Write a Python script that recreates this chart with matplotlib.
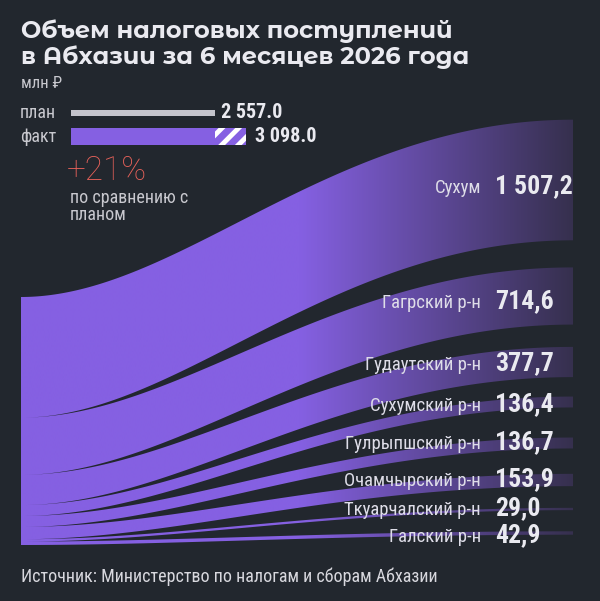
import numpy as np
import matplotlib
matplotlib.use("Agg")
import matplotlib.pyplot as plt
from matplotlib.path import Path
from matplotlib.patches import PathPatch, Rectangle

# === Data ===
districts = ["Сухум", "Гагрский р-н", "Гудаутский р-н", "Сухумский р-н",
             "Гулрыпшский р-н", "Очамчырский р-н", "Ткуарчалский р-н", "Галский р-н"]
values = [1507.2, 714.6, 377.7, 136.4, 136.7, 153.9, 29.0, 42.9]
value_labels = ["1 507,2", "714,6", "377,7", "136,4", "136,7", "153,9", "29,0", "42,9"]

plan_fact_names = ["план", "факт"]
plan_fact_values = [2557.0, 3098.0]
plan_fact_labels = ["2 557.0", "3 098.0"]
growth_label = "+21%"

# === Style ===
BG = "#22272e"
PURPLE = "#8560e2"
END = "#36304e"
TXT = "#eaeaf0"
GRAY = "#c8c8ce"
RED = "#e9625a"

NARROW = ["Roboto Condensed", "DejaVu Sans"]
TITLE = ["Montserrat Alternates", "Inter", "DejaVu Sans"]

fig = plt.figure(figsize=(6, 6.01), dpi=100, facecolor=BG)
ax = fig.add_axes([0, 0, 1, 1])
ax.set_facecolor(BG)
ax.set_xlim(0, 600)
ax.set_ylim(601, 0)
ax.axis("off")

# === Sankey-like bands ===
x_left, x_right = 21, 573
left_top, left_h = 297, 248
right_centers = [180, 296, 362, 402, 443, 480, 509, 533]
k = left_h / sum(values)

t = np.linspace(0, 1, 200)
c1, c2 = 180, 330
bx = ((1 - t) ** 3 * x_left + 3 * (1 - t) ** 2 * t * c1
      + 3 * (1 - t) * t ** 2 * c2 + t ** 3 * x_right)
bf = 3 * t ** 2 - 2 * t ** 3

paths = []
y0 = left_top
for v, rc in zip(values, right_centers):
    w = v * k
    lt, lb = y0, y0 + w
    rt, rb = rc - w / 2, rc + w / 2
    top = lt + (rt - lt) * bf
    bot = lb + (rb - lb) * bf
    xs = np.concatenate([bx, bx[::-1]])
    ys = np.concatenate([top, bot[::-1]])
    verts = np.column_stack([xs, ys])
    codes = [Path.MOVETO] + [Path.LINETO] * (len(verts) - 1)
    paths.append(Path(verts, codes))
    y0 = lb

band_path = Path.make_compound_path(*paths)
patch = PathPatch(band_path, facecolor="none", edgecolor="none")
ax.add_patch(patch)

# horizontal gradient: flat purple, then fading to dark at the right end
gx = np.linspace(x_left, x_right, 600)
s = np.clip((gx - 300) / (x_right - 300), 0, 1)
c_a = np.array(matplotlib.colors.to_rgb(PURPLE))
c_b = np.array(matplotlib.colors.to_rgb(END))
grad = c_a[None, :] * (1 - s[:, None]) + c_b[None, :] * s[:, None]
im = ax.imshow(grad[None, :, :], extent=(x_left, x_right, 560, 100),
               aspect="auto", interpolation="bilinear", zorder=2)
im.set_clip_path(patch)
ax.set_xlim(0, 600)
ax.set_ylim(601, 0)

# === Labels on the right ===
label_y = [188, 303, 365, 406, 444, 481, 510, 537]
for name, lab, y in zip(districts, value_labels, label_y):
    ax.text(481, y, name, ha="right", va="center", fontsize=13.5,
            color="#dedde8", family=NARROW, zorder=5)
    ax.text(495, y - 2, lab, ha="left", va="center", fontsize=18.5,
            color=TXT, family=NARROW, fontweight="bold", zorder=5)

# === Title ===
ax.text(21, 31, "Объем налоговых поступлений", fontsize=17.4, fontweight="bold",
        color=TXT, family=TITLE, va="center")
ax.text(21, 57, "в Абхазии за 6 месяцев 2026 года", fontsize=17.4, fontweight="bold",
        color=TXT, family=TITLE, va="center")
ax.text(21, 83, "млн ₽", fontsize=12, color=GRAY, family=NARROW, va="center")

# === Plan vs fact ===
bar_x = 71
bk = 0.0565
plan_w = plan_fact_values[0] * bk
fact_w = plan_fact_values[1] * bk
ax.add_patch(Rectangle((bar_x, 109.5), plan_w, 6.5, facecolor="#c4c4cc", edgecolor="none"))
ax.add_patch(Rectangle((bar_x, 128), fact_w, 17, facecolor=PURPLE, edgecolor="none"))
plt.rcParams["hatch.linewidth"] = 3.5
plt.rcParams["hatch.color"] = "white"
ax.add_patch(Rectangle((bar_x + plan_w, 128), fact_w - plan_w, 17, facecolor=PURPLE,
                       edgecolor="white", linewidth=0, hatch="//"))
ax.text(20, 113, plan_fact_names[0], fontsize=13, color=GRAY, family=NARROW, va="center")
ax.text(20, 137, plan_fact_names[1], fontsize=13, color=GRAY, family=NARROW, va="center")
ax.text(bar_x + plan_w + 6, 112, plan_fact_labels[0], fontsize=14.5, fontweight="bold",
        color=TXT, family=NARROW, va="center")
ax.text(bar_x + fact_w + 9, 136, plan_fact_labels[1], fontsize=14.5, fontweight="bold",
        color=TXT, family=NARROW, va="center")

ax.text(67, 171, growth_label, fontsize=24, color=RED, family=["Roboto", "DejaVu Sans"],
        fontweight="light", va="center")
ax.text(70, 189, "по сравнению с\nпланом", fontsize=13, color=GRAY, family=NARROW,
        va="top", linespacing=0.95)

# === Source ===
ax.text(21, 577, "Источник: Министерство по налогам и сборам Абхазии", fontsize=13,
        color="#d8d8de", family=NARROW, va="center")

fig.savefig("out.png", dpi=100, facecolor=BG)
